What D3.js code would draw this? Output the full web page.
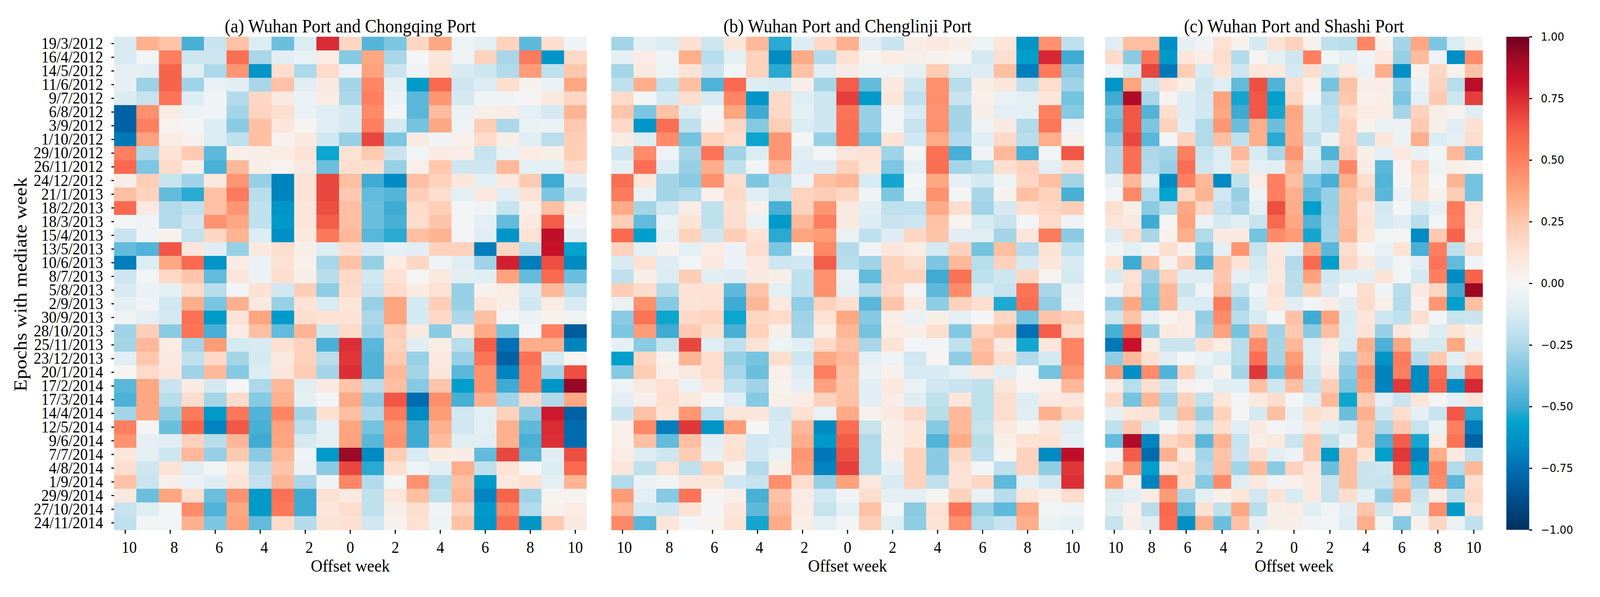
<!DOCTYPE html>
<html>
<head>
<meta charset="utf-8">
<title>Epoch heatmaps</title>
<script src="https://cdn.jsdelivr.net/npm/d3@7"></script>
<style>
  html, body { margin: 0; padding: 0; background: #fff; overflow: hidden; width: 100%; height: 100%; }
  svg { display: block; }
  .serif text, text.serif { font-family: "Liberation Serif", serif; fill: #000; }
  .cbar text { font-family: "DejaVu Sans", sans-serif; fill: #000; }
</style>
</head>
<body>
<div id="chart"></div>
<script>
const epochs = ["19/3/2012","16/4/2012","14/5/2012","11/6/2012","9/7/2012","6/8/2012","3/9/2012","1/10/2012","29/10/2012","26/11/2012","24/12/2012","21/1/2013","18/2/2013","18/3/2013","15/4/2013","13/5/2013","10/6/2013","8/7/2013","5/8/2013","2/9/2013","30/9/2013","28/10/2013","25/11/2013","23/12/2013","20/1/2014","17/2/2014","17/3/2014","14/4/2014","12/5/2014","9/6/2014","7/7/2014","4/8/2014","1/9/2014","29/9/2014","27/10/2014","24/11/2014"];
const offsets = [-10,-9,-8,-7,-6,-5,-4,-3,-2,-1,0,1,2,3,4,5,6,7,8,9,10];
const offsetTicks = [-10,-8,-6,-4,-2,0,2,4,6,8,10];
const titles = ["(a) Wuhan Port and Chongqing Port","(b) Wuhan Port and Chenglinji Port","(c) Wuhan Port and Shashi Port"];
const colorbarTicks = [-1,-0.75,-0.5,-0.25,0,0.25,0.5,0.75,1];
const colorStops = [-1,-0.87,-0.75,-0.65,-0.56,-0.5,-0.38,-0.25,-0.12,0,0.12,0.25,0.37,0.5,0.6,0.65,0.75,0.82,0.9,1];
const colorRange = ["#003060","#00508e","#006eb3","#008ec4","#00a4cd","#3fabd3","#74c3df","#add8e9","#dcecf3","#f5f5f5","#fde3d6","#ffc8ae","#ffa57f","#ff7f60","#f7644c","#ef5344","#d92b33","#c8102a","#a80b26","#6c0020"];

const chongqing = [
[-.13,.33,.26,-.48,-.17,.27,-.12,-.4,-.12,.75,.18,-.45,-.36,.18,.36,-.04,-.08,.2,-.43,.14,-.03],
[-.13,-.02,.5,-.16,-.16,.56,-.26,-.09,-.06,.07,-.34,.36,-.26,0,.11,-.04,.2,-.26,.52,-.62,.17],
[-.07,-.09,.6,-.1,-.25,.42,-.62,.15,-.25,.16,-.05,.38,-.17,-.03,.12,-.13,-.16,-.24,.4,-.2,.25],
[-.07,-.29,.6,-.28,-.06,-.09,-.26,.27,-.09,.08,-.27,.48,-.08,-.6,.58,-.16,-.12,.14,.03,-.06,.36],
[-.12,-.18,.54,-.12,-.03,-.23,.18,.08,-.05,.06,-.25,.5,-.05,-.44,.42,-.14,-.03,-.03,.01,.09,.18],
[-.8,.44,.06,-.05,-.03,-.27,.19,.14,-.06,-.1,-.14,.46,-.01,-.44,.29,-.05,.05,.06,-.08,-.14,.32],
[-.8,.5,.02,-.01,-.12,-.33,.28,.1,.02,-.1,-.14,.5,-.14,-.38,.36,-.04,.22,-.25,-.06,-.05,.24],
[-.72,.38,.06,.03,-.12,-.2,.28,.03,.08,-.15,-.3,.68,-.36,.07,-.03,.04,.16,.05,-.1,-.21,.22],
[.5,-.25,.12,.24,-.43,.05,.05,.07,.12,-.55,.12,.24,-.17,-.02,.07,.06,-.18,-.06,.07,.05,.22],
[.58,-.36,.16,.05,-.47,.3,.05,.02,.08,-.4,.14,.15,-.3,.04,.25,-.16,-.16,.3,-.08,-.08,.16],
[.05,.22,-.18,-.28,.09,.42,-.3,-.68,.12,.68,.28,-.5,-.66,.28,.2,.1,-.08,.09,.24,-.5,-.09],
[.28,.2,-.42,-.52,.27,.52,-.22,-.68,.12,.68,.24,-.42,-.45,.22,.14,-.08,.09,-.1,.12,-.36,-.17],
[.58,.08,-.24,-.2,.27,.42,-.2,-.62,.1,.66,.28,-.4,-.5,.16,.22,-.01,-.03,-.18,.05,.28,.05],
[-.02,-.03,-.23,-.16,.43,.36,-.2,-.6,.1,.62,.28,-.4,-.48,.15,.26,-.01,-.08,-.42,.08,.62,-.03],
[-.17,-.03,.03,-.19,.18,.32,-.12,-.64,.09,.53,.3,-.44,-.52,.28,.32,-.01,-.1,-.62,.12,.84,-.1],
[-.42,-.46,.64,.1,-.1,-.3,.08,.14,.05,-.11,.15,-.13,-.07,-.09,.2,.2,-.7,.18,-.22,.82,-.56],
[-.7,-.12,.36,.58,-.62,.07,-.05,.13,.04,-.26,.27,-.3,.07,.18,-.04,-.1,-.28,.78,-.7,.66,-.66],
[-.16,-.02,.17,.26,-.42,.1,-.05,.14,.05,-.22,.17,-.15,.13,0,.09,-.09,-.1,.38,-.42,.58,-.4],
[-.13,-.05,-.08,.16,-.22,-.01,.13,-.15,.22,-.32,.16,-.17,.16,.07,.13,-.3,.03,.07,-.13,.3,-.22],
[-.08,-.03,-.15,.34,-.37,.33,.08,-.3,.12,-.13,.11,-.3,.37,-.14,.22,-.3,.11,.05,-.15,.07,-.13],
[-.04,-.08,-.14,.55,-.6,.12,.37,-.6,.14,.12,.12,-.25,.37,-.14,.17,-.25,.28,-.02,-.05,.03,-.03],
[-.28,.22,-.33,.54,-.48,.07,.28,-.42,.32,-.16,.16,-.28,.22,.08,-.33,.08,.35,-.38,-.01,.5,-.82],
[-.27,.3,.07,-.27,.4,-.14,-.13,.13,.2,-.48,.74,-.44,.2,-.1,.07,-.22,.62,-.74,.34,.34,-.68],
[-.09,.25,.08,-.2,.17,-.27,-.14,.09,.2,-.22,.72,-.46,.24,-.3,.09,-.3,.54,-.8,.55,-.13,.01],
[.01,.16,.1,-.28,.3,-.34,-.12,.1,.23,-.27,.74,-.46,.3,-.27,.1,-.44,.44,-.68,.5,-.28,.66],
[-.44,.36,-.17,.07,-.14,0,-.25,.3,-.1,.08,.26,-.22,.28,-.34,.26,-.58,.44,-.5,.5,-.62,.93],
[-.47,.36,-.22,.15,-.27,.16,-.34,.33,-.08,-.01,.35,-.33,.64,-.76,.45,-.48,.33,-.28,.17,-.24,.36],
[-.27,.36,-.32,.52,-.6,.53,-.46,.48,-.27,.13,.28,-.25,.52,-.66,.4,-.15,-.08,.2,-.33,.8,-.8],
[.5,.01,-.4,.6,-.68,.64,-.48,.38,-.21,-.08,.37,-.38,.42,-.5,.33,-.15,-.08,.33,-.43,.75,-.76],
[.43,-.07,-.1,.2,-.22,.31,-.5,.37,-.14,-.08,.38,-.44,.44,-.5,.29,-.1,-.1,.33,-.48,.74,-.76],
[.11,-.08,-.16,.3,-.3,.24,-.33,.3,-.04,-.6,.92,-.66,.23,-.13,.07,.06,-.42,.68,-.44,-.1,.66],
[.14,-.16,.12,-.1,-.02,.09,-.22,.26,-.05,-.33,.68,-.52,.14,-.04,-.1,.34,-.2,.12,0,-.12,.58],
[.27,-.17,.04,-.05,-.1,.12,-.19,.31,-.26,-.03,.48,-.23,-.01,.44,-.24,.28,-.6,.09,.13,-.08,.32],
[.08,-.4,.37,.14,-.4,.43,-.6,.55,-.5,.13,.08,-.2,.1,.28,-.2,.31,-.68,.6,-.28,.02,.02],
[-.18,-.1,-.02,.46,-.46,.36,-.6,.53,-.5,.1,.15,-.2,.05,.14,-.03,.2,-.6,.47,-.24,.03,.07],
[-.2,-.02,-.02,.33,-.36,.38,-.42,.16,-.23,.12,.13,-.15,.03,.13,-.04,.27,-.62,.56,-.62,.24,.08]
];

const chenglinji = [
[-.27,-.07,-.12,.13,-.16,.11,.3,-.52,-.11,.17,.33,-.09,-.17,.06,.09,.05,-.04,.1,-.62,.44,-.2],
[-.07,.06,-.03,.34,-.22,-.08,.2,-.66,.35,-.23,.13,.02,.07,.05,.03,.01,-.14,.14,-.58,.76,-.5],
[-.27,.08,-.04,.12,-.17,-.02,.2,-.52,.27,-.1,.06,-.04,-.03,-.08,.23,-.12,-.11,.28,-.7,.52,-.33],
[-.2,.34,-.2,.28,-.46,.58,-.12,-.13,.05,-.27,.62,-.42,.09,-.16,.44,-.22,.05,.1,-.2,.15,-.28],
[.16,-.01,-.14,.15,-.13,.48,-.62,.17,-.1,-.16,.7,-.6,.1,-.2,.45,-.17,.04,-.06,-.08,.1,-.38],
[.26,-.36,.27,-.12,-.01,.37,-.5,.17,-.08,-.16,.54,-.3,-.02,-.13,.43,-.27,.05,-.09,-.08,.5,-.34],
[.17,-.62,.56,-.2,.03,.18,-.34,.22,-.12,-.16,.56,-.3,-.02,-.18,.44,-.27,-.04,.08,-.24,.53,-.05],
[.07,-.12,.46,-.38,.2,.15,-.55,.42,-.01,-.3,.56,-.38,.12,-.15,.35,-.23,-.1,.17,-.22,.34,.03],
[-.16,.46,-.04,-.27,.54,-.28,-.12,.42,-.1,-.02,.1,.12,-.28,-.01,.55,-.48,-.03,.3,-.48,-.02,.64],
[-.08,.56,-.12,-.3,.34,-.2,-.02,.32,-.11,-.11,.2,.11,-.36,-.07,.56,-.27,-.22,.14,.2,-.09,.16],
[.56,.1,-.27,-.33,.44,.15,-.36,-.2,-.05,.28,.31,-.13,-.54,-.01,.36,-.07,-.14,-.04,.18,.28,-.27],
[.52,-.06,-.27,-.24,.04,.17,-.1,-.18,.19,.22,.18,-.03,-.36,-.04,.44,-.01,-.26,.03,.28,.2,-.48],
[.35,-.27,-.15,.06,-.2,.14,.04,-.48,.2,.42,.09,-.09,-.2,-.2,.35,.15,-.28,-.14,.14,.18,.22],
[.22,-.42,-.06,.12,-.2,.15,-.06,-.6,.3,.5,.08,-.11,-.17,-.16,.27,.02,-.13,-.18,-.01,.16,-.03],
[.58,-.58,-.08,.2,-.16,.22,.12,-.52,.37,.4,-.06,-.2,-.11,.18,.26,-.09,-.1,-.27,.1,.52,-.33],
[.2,-.08,.03,-.08,.07,-.05,.15,-.36,-.02,.47,-.23,-.03,.1,.07,-.14,.2,-.38,.28,-.23,.12,-.2],
[-.13,.13,-.11,-.02,.09,-.05,.09,-.16,-.15,.62,-.22,-.28,.2,.14,-.36,.3,-.22,.2,-.14,.1,-.13],
[-.2,.05,-.12,.22,-.1,-.11,.08,.05,-.2,.44,-.06,-.42,.2,.2,-.5,.55,-.2,-.16,.18,.02,-.14],
[.22,.15,-.23,.12,.12,-.43,.26,-.08,-.2,.44,-.07,-.23,.17,.02,-.43,.46,-.13,-.18,.54,-.26,-.05],
[-.06,.44,-.34,.12,.13,-.5,.31,.09,-.32,.2,.14,-.44,.26,.08,-.32,.2,.14,-.53,.56,-.31,-.03],
[-.33,.54,-.55,.17,.19,-.55,.18,.16,-.28,.12,.36,-.34,.05,-.06,.05,-.08,-.01,.18,-.38,.26,.22],
[-.36,.4,-.5,.24,.14,-.48,.2,.05,-.27,.07,.31,-.38,.07,.05,.14,-.35,.2,.27,-.74,.62,.15],
[-.07,-.33,-.18,.68,-.1,-.2,.12,-.04,-.1,.17,.27,-.26,.12,-.02,-.02,-.2,.27,.08,-.54,.1,.48],
[-.58,.18,.03,.32,.14,-.3,-.38,.15,-.16,.36,.3,-.08,-.04,-.15,.02,-.32,.3,.14,-.24,-.14,.48],
[-.34,.23,.04,.09,.15,-.26,-.4,.04,-.12,.5,.27,-.05,.03,-.13,-.13,-.08,.08,-.1,-.01,-.38,.42],
[-.04,.09,.13,-.05,.1,-.2,-.28,.03,-.07,.38,.26,-.09,.09,-.06,-.15,-.17,-.2,.1,.02,.04,.3],
[-.09,.04,.14,.09,.01,-.11,-.34,.05,.06,.2,.27,-.09,.06,-.1,-.2,.1,-.2,.15,-.11,.08,.1],
[-.17,.27,.12,.42,-.2,.11,.1,-.15,.13,-.06,.35,.03,.08,.17,-.22,.3,-.2,.15,-.1,.33,.18],
[.04,.47,-.7,.72,-.62,.4,0,-.13,.3,-.66,.56,-.18,.05,.1,-.34,.3,-.18,.09,.02,.1,-.1],
[.04,.28,-.42,.28,-.09,.12,-.15,-.13,.34,-.6,.62,-.24,.05,.11,-.46,.35,-.22,.05,.13,.13,-.07],
[.07,-.11,-.16,.22,-.07,.13,-.15,-.06,.42,-.72,.66,-.24,.04,.2,-.33,.18,-.2,.02,.2,-.66,.84],
[.1,-.2,.13,-.2,.2,.03,-.23,.05,.4,-.68,.7,-.24,-.07,.2,-.33,.13,-.01,-.2,.2,-.32,.72],
[-.24,-.05,-.03,.1,.1,-.15,-.18,.45,.15,-.3,.38,.08,-.13,.2,-.2,.12,.18,-.43,-.08,-.15,.74],
[.4,-.08,-.34,.54,.02,.05,-.48,.27,.06,-.15,-.03,.15,-.08,-.08,.01,.2,-.06,-.22,.11,.04,.15],
[.3,-.14,-.16,.12,-.01,.1,-.43,.3,.07,-.18,-.08,.27,-.02,-.33,.13,.54,-.3,-.43,.38,-.02,-.03],
[.47,-.44,.11,-.01,.02,.12,-.54,.35,.05,-.08,-.01,.22,-.1,-.32,.12,.44,-.24,-.18,.34,-.05,-.08]
];

const shashi = [
[-.1,.28,.28,-.64,-.07,-.03,.13,.03,-.14,.12,.2,.03,-.2,-.22,.48,.03,-.27,.36,-.36,-.12,.03],
[.16,-.33,.54,-.6,.1,.05,.15,-.24,.02,-.08,-.16,.5,-.02,-.08,-.03,.09,-.3,.29,-.04,-.65,.46],
[-.04,-.15,.68,-.72,.22,-.13,.12,-.16,.1,.09,-.14,.14,-.15,.09,-.06,.34,-.64,.04,.18,.03,.27],
[-.62,.37,-.16,.13,.05,-.16,-.1,-.42,.66,-.46,.15,.04,-.38,.27,.05,.06,-.32,-.05,.2,-.22,.86],
[-.5,.88,-.26,.02,-.11,-.15,.38,-.54,.64,-.58,.18,-.01,-.24,.25,.04,.05,-.36,-.08,.24,-.16,.7],
[-.38,.64,-.46,.15,-.11,-.15,.36,-.5,.64,-.54,.36,-.14,-.2,.15,.07,.07,-.27,.2,.05,.03,-.1],
[-.42,.64,-.36,.2,-.1,-.24,.42,-.4,.34,-.4,.35,-.14,-.19,.2,.03,-.06,-.05,.24,.05,-.1,.13],
[-.33,.68,-.44,-.01,.2,-.24,.28,-.2,.34,-.52,.35,-.2,-.05,.2,-.2,.1,-.05,.34,-.12,-.08,.15],
[-.25,.56,-.25,-.27,.5,-.18,-.12,.3,-.13,-.26,.42,-.11,-.46,.24,.05,-.08,.09,-.06,-.02,.3,-.36],
[-.25,.56,-.24,-.3,.56,-.16,-.1,.17,-.08,-.09,.32,-.15,-.24,.48,.06,-.44,.02,.18,-.04,.05,.02],
[-.07,.3,-.12,-.66,.5,.3,-.66,-.2,.06,.5,.28,-.36,-.48,.34,.15,-.46,-.01,.14,0,.32,-.38],
[-.02,.47,-.24,-.56,.18,.32,-.15,-.3,-.04,.5,.33,-.42,-.3,.27,.2,-.44,-.05,.13,.03,.22,-.38],
[.14,.05,-.33,-.22,.36,.18,-.19,-.26,-.08,.66,.34,-.58,-.3,.28,.1,-.14,-.01,-.14,-.07,.52,.1],
[.1,.08,-.5,.01,.38,-.05,-.14,-.1,-.18,.58,.36,-.46,-.28,.28,.12,-.13,-.1,-.22,-.02,.5,.09],
[-.12,.15,-.26,.03,.34,-.24,.08,.08,-.38,.46,.4,-.54,-.27,.3,.1,-.02,-.01,-.66,.24,.6,.04],
[-.02,-.09,-.03,.14,.03,-.34,-.08,.42,-.18,.08,-.08,.36,-.44,.15,.01,-.06,.12,-.48,.5,-.2,.14],
[.12,-.5,.26,.03,.22,-.46,.26,.12,-.14,.1,-.24,.58,-.58,.18,.08,-.11,-.02,-.1,.54,-.42,-.03],
[-.13,.13,-.3,.2,-.11,-.11,.25,-.08,-.12,.09,-.22,.38,-.15,-.1,-.09,.12,-.02,-.14,.5,-.66,.6],
[-.02,.15,-.35,.3,-.17,-.04,.28,-.17,-.03,.12,-.21,.22,-.13,-.01,.15,-.03,-.22,.08,.18,-.5,.92],
[-.3,.36,-.37,.31,-.12,-.13,.52,-.28,-.08,.11,-.1,-.02,.06,-.1,.16,.05,-.23,.04,.42,-.58,.28],
[-.16,.26,-.08,.02,.07,-.31,.46,-.22,-.13,-.01,.27,-.5,.38,-.13,.11,-.16,-.2,.14,-.02,-.18,-.17],
[-.48,.55,-.3,.08,.07,-.28,.38,-.38,.28,-.28,.24,-.33,.28,-.12,.12,-.3,.1,.03,-.12,.12,.05],
[-.72,.82,.07,-.17,-.17,.14,.07,-.22,.46,-.27,.3,-.12,.07,-.13,.34,-.47,.36,-.14,-.14,.36,-.05],
[-.32,.3,.13,-.09,-.01,-.05,-.12,-.22,.56,-.27,.4,-.12,.05,-.28,.3,-.62,.52,-.23,.24,-.08,.13],
[.4,-.64,.46,-.46,.2,-.12,.03,-.27,.72,-.37,.46,-.16,.1,-.33,.44,-.68,.5,-.66,.55,-.2,.54],
[.06,-.22,.14,-.16,.04,-.02,-.1,-.1,.28,-.16,.28,-.19,.22,-.37,.4,-.68,.72,-.66,.6,-.66,.76],
[.17,-.38,.31,-.27,.2,-.2,.11,-.01,.08,.15,-.01,-.1,.3,-.55,.24,-.09,-.17,.11,-.01,-.08,.1],
[-.07,.11,.12,-.2,.28,-.3,.2,.01,-.14,.28,-.07,.14,.11,-.4,.33,-.16,.15,-.08,-.18,.64,-.52],
[-.2,.25,-.14,-.01,.12,-.18,.14,-.1,.08,-.02,-.05,.09,-.1,-.14,.27,-.26,.24,-.18,-.06,.5,-.7],
[-.42,.88,-.68,.17,.24,-.44,.32,-.18,.05,.09,-.17,.24,-.2,-.06,.27,-.48,.62,-.54,.07,.54,-.8],
[-.02,.62,-.76,.33,.07,-.27,.26,-.17,.14,-.09,-.05,.24,-.6,.28,.12,-.58,.72,-.68,.34,.08,-.2],
[.14,.43,-.58,.1,.16,-.24,.28,-.27,.3,-.33,.2,.1,-.4,.28,-.17,-.16,.64,-.58,.48,-.24,.3],
[.38,.04,-.68,.54,.14,-.34,.46,-.1,.09,-.03,.04,.09,-.18,.28,-.17,-.17,.28,-.28,.46,-.44,.14],
[-.12,-.09,.07,.4,-.26,-.08,.04,.11,-.15,.12,-.13,.09,-.18,.15,-.08,-.3,.36,-.17,.06,-.21,.17],
[-.1,.04,-.22,.58,-.42,.13,-.2,.36,-.22,.05,.07,-.1,-.03,-.09,.26,-.16,.06,-.14,.45,-.6,.12],
[-.18,.05,-.1,.56,-.64,.33,-.4,.27,-.07,.05,.05,-.03,-.02,-.11,.34,-.02,-.34,.03,.18,-.05,-.2]
];

const width = 4408;
const height = 1528;
const marginTop = 94;
const marginBottom = 172;
const panelLefts = [314, 1684, 3045];
const panelWidths = [1302, 1302, 1040];
const panelData = [chongqing, chenglinji, shashi];
const leftLabelShift = [11, 5, 4]; // labels left of 0 sit a bit right of their ticks in the original

// fits whatever window the page gets
const svg = d3.select("#chart").append("svg")
  .attr("viewBox", `0 0 ${width} ${height}`)
  .attr("preserveAspectRatio", "none")
  .style("width", "100vw")
  .style("height", "100vh");

const color = d3.scaleLinear().domain(colorStops).range(colorRange).clamp(true);

const y = d3.scaleBand()
  .domain(epochs)
  .range([marginTop, height - marginBottom]);

panelData.forEach((rows, p) => {
  const x = d3.scaleBand()
    .domain(offsets)
    .range([panelLefts[p], panelLefts[p] + panelWidths[p]]);

  const g = svg.append("g");

  rows.forEach((row, r) => {
    g.selectAll(null)
      .data(row)
      .enter()
      .append("rect")
      .attr("x", (d, i) => x(offsets[i]))
      .attr("y", y(epochs[r]))
      .attr("width", x.bandwidth() + 0.5)
      .attr("height", y.bandwidth() + 0.5)
      .attr("fill", d => color(d))
      .attr("shape-rendering", "crispEdges");
  });

  const xAxis = svg.append("g")
    .attr("class", "serif")
    .attr("transform", `translate(0,${height - marginBottom})`)
    .call(d3.axisBottom(x).tickValues(offsetTicks).tickFormat(d => Math.abs(d)).tickSize(10).tickPadding(19));
  xAxis.select(".domain").remove();
  xAxis.selectAll(".tick line").attr("stroke", "#000").attr("stroke-width", 3);
  xAxis.selectAll(".tick text")
    .style("font-size", "42px")
    .attr("dx", d => d < 0 ? leftLabelShift[p] : 0);

  svg.append("text")
    .attr("class", "serif")
    .attr("x", panelLefts[p] + panelWidths[p] / 2)
    .attr("y", 83)
    .attr("text-anchor", "middle")
    .style("font-size", "48px")
    .text(titles[p]);

  svg.append("text")
    .attr("class", "serif")
    .attr("x", panelLefts[p] + panelWidths[p] / 2)
    .attr("y", 1463)
    .attr("text-anchor", "middle")
    .style("font-size", "45px")
    .text("Offset week");
});

// date labels only on the first panel
const yAxis = svg.append("g")
  .attr("class", "serif")
  .attr("transform", `translate(${panelLefts[0]},0)`)
  .call(d3.axisLeft(y).tickSize(7).tickPadding(23));
yAxis.select(".domain").remove();
yAxis.selectAll(".tick line").attr("stroke", "#000").attr("stroke-width", 3);
yAxis.selectAll(".tick text").style("font-size", "42px");

svg.append("text")
  .attr("class", "serif")
  .attr("transform", "translate(73,728) rotate(-90)")
  .attr("text-anchor", "middle")
  .style("font-size", "51px")
  .text("Epochs with mediate week");

// colorbar
const barLeft = 4150;
const barWidth = 63;
const barScale = d3.scaleLinear().domain([-1, 1]).range([height - marginBottom, marginTop]);

const gradient = svg.append("defs").append("linearGradient")
  .attr("id", "cbar-gradient")
  .attr("x1", 0).attr("y1", 1).attr("x2", 0).attr("y2", 0);
gradient.selectAll("stop")
  .data(colorStops)
  .enter()
  .append("stop")
  .attr("offset", d => (d + 1) / 2)
  .attr("stop-color", d => color(d));

svg.append("rect")
  .attr("x", barLeft)
  .attr("y", marginTop)
  .attr("width", barWidth)
  .attr("height", height - marginBottom - marginTop)
  .attr("fill", "url(#cbar-gradient)");

const barAxis = svg.append("g")
  .attr("class", "cbar")
  .attr("transform", `translate(${barLeft + barWidth},0)`)
  .call(d3.axisRight(barScale).tickValues(colorbarTicks).tickFormat(d => d3.format(".2f")(d).replace("-", "\u2212")).tickSize(8).tickPadding(24));
barAxis.select(".domain").remove();
barAxis.selectAll(".tick line").attr("stroke", "#000").attr("stroke-width", 3);
barAxis.selectAll(".tick text").style("font-size", "29px");
</script>
</body>
</html>
